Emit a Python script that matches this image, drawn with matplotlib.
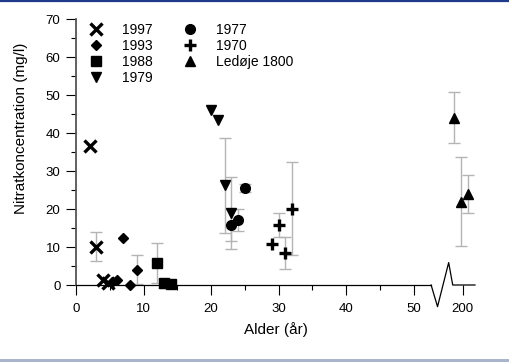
import numpy as np
import matplotlib.pyplot as plt
from matplotlib.lines import Line2D
from matplotlib.patches import Rectangle
from matplotlib.ticker import FixedLocator, FixedFormatter

plt.rcParams['font.family'] = ['Liberation Sans', 'DejaVu Sans']

age_1997 = [2, 3, 4, 4.8]
no3_1997 = [36.7, 10.1, 1.2, 0.5]
err_1997 = [0, 3.8, 0, 0]

age_1993 = [5.3, 6, 7, 8, 9]
no3_1993 = [0.8, 1.2, 12.4, 0.1, 4.0]
err_1993 = [0, 0, 0, 0, 3.8]

age_1988 = [12, 13, 14]
no3_1988 = [5.8, 0.4, 0.3]
err_1988 = [5.3, 1.2, 0]

age_1979 = [20, 21, 22, 23]
no3_1979 = [46.0, 43.3, 26.2, 18.9]
err_1979 = [0, 0, 12.4, 9.5]

age_1977 = [23, 24, 25]
no3_1977 = [15.8, 17.1, 25.5]
err_1977 = [4.1, 2.9, 1.0]

age_1970 = [29, 30, 31, 32]
no3_1970 = [10.8, 15.8, 8.5, 20.1]
err_1970 = [0, 3.1, 4.2, 12.2]

age_ledoje = [198.7, 199.7, 200.7]
no3_ledoje = [44.0, 21.9, 23.9]
err_ledoje = [6.7, 11.7, 5.0]

x_ticks = [0, 10, 20, 30, 40, 50, 200]
x_minor = [5, 15, 25, 35, 45]
y_ticks = [0, 10, 20, 30, 40, 50, 60, 70]

# broken x axis : everything above 100 is shifted next to 50
SHIFT = 142.7


def fwd(x):
    x = np.asarray(x, dtype=float)
    return np.where(x > 100, x - SHIFT, x)


def inv(x):
    x = np.asarray(x, dtype=float)
    return np.where(x > 56, x + SHIFT, x)


series = [
    (age_1997, no3_1997, err_1997, 'x', 8, 2.4, '1997'),
    (age_1993, no3_1993, err_1993, 'D', 5, 1, '1993'),
    (age_1988, no3_1988, err_1988, 's', 7, 1, '1988'),
    (age_1979, no3_1979, err_1979, 'v', 7, 1, '1979'),
    (age_1977, no3_1977, err_1977, 'o', 7, 1, '1977'),
    (age_1970, no3_1970, err_1970, '+', 8, 2.4, '1970'),
    (age_ledoje, no3_ledoje, err_ledoje, '^', 7, 1, 'Ledøje 1800'),
]

fig = plt.figure(figsize=(5.1, 3.62), dpi=100)
ax = fig.add_axes([76 / 510, 77 / 362, 399 / 510, 266 / 362])
ax.set_xscale('function', functions=(fwd, inv))

for age, no3, err, mk, ms, mew, lab in series:
    age = np.array(age)
    no3 = np.array(no3)
    err = np.array(err)
    has = err > 0
    if has.any():
        ax.errorbar(age[has], no3[has], yerr=err[has], fmt='none', ecolor='#b4b4b4',
                    elinewidth=1, capsize=4, capthick=1, zorder=2, clip_on=False)
    ax.plot(age, no3, linestyle='none', marker=mk, markersize=ms, markeredgewidth=mew,
            color='black', label=lab, zorder=3, clip_on=False)

ax.set_xlim(0, 201.8)
ax.set_ylim(0, 70)

ax.xaxis.set_major_locator(FixedLocator(x_ticks))
ax.xaxis.set_major_formatter(FixedFormatter([str(t) for t in x_ticks]))
ax.xaxis.set_minor_locator(FixedLocator(x_minor))
ax.xaxis.set_minor_formatter(FixedFormatter([''] * len(x_minor)))
ax.yaxis.set_major_locator(FixedLocator(y_ticks))
ax.yaxis.set_minor_locator(FixedLocator([t + 5 for t in y_ticks[:-1]]))

ax.tick_params(which='major', length=7.2, width=0.8, direction='out', labelsize=9.5)
ax.tick_params(which='minor', length=3.6, width=0.8, direction='out')
ax.tick_params(axis='x', which='major', pad=6)
ax.tick_params(axis='y', which='major', pad=4)

ax.spines['top'].set_visible(False)
ax.spines['right'].set_visible(False)
ax.spines['left'].set_linewidth(1.3)
ax.spines['left'].set_color('#555555')
ax.spines['bottom'].set_linewidth(0.9)
ax.spines['bottom'].set_bounds(0, 52.6)

# zigzag break and the rest of the axis line
ax.plot([52.6, 53.55, 55.2, 55.8, 201.8], [0, -5.7, 5.9, 0, 0], color='black',
        linewidth=0.9, clip_on=False, zorder=1)

ax.set_xlabel('Alder (år)', fontsize=11, labelpad=5)
ax.set_ylabel('Nitratkoncentration (mg/l)', fontsize=11)
ax.yaxis.set_label_coords(-0.12, 0.588)

ax.legend(loc='upper left', bbox_to_anchor=(89 / 510, 1 - 23 / 362),
          bbox_transform=fig.transFigure, ncol=2, frameon=False, fontsize=10,
          handlelength=1.0, handletextpad=1.35, columnspacing=2.2,
          labelspacing=0.15, borderpad=0, borderaxespad=0)

# thin frame bits of the original page
fig.add_artist(Line2D([0, 1], [1 - 1 / 362, 1 - 1 / 362], transform=fig.transFigure,
                      color='#1f3a8a', linewidth=1.6))
fig.add_artist(Rectangle((0, 0), 1, 3 / 362, transform=fig.transFigure,
                         color='#a9b5cd', linewidth=0))

fig.savefig('out.png', dpi=100)
